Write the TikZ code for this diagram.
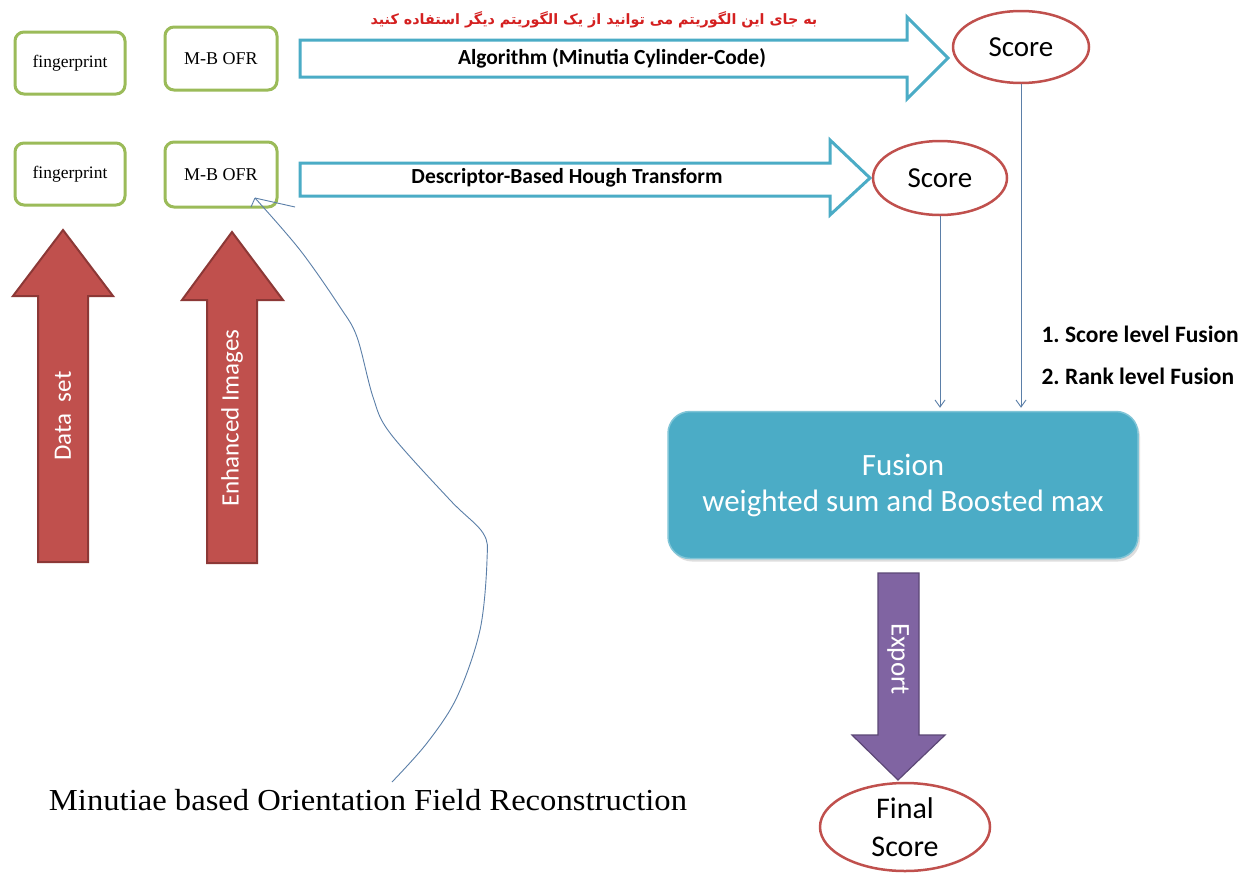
\documentclass[tikz,border=0pt]{standalone}
\usepackage{fontspec}
\setmainfont{Liberation Serif}
\newfontfamily\calib{Carlito}
\newfontfamily\capfont[FakeStretch=1.07]{Liberation Serif}
\newfontfamily\arabicfont[Script=Arabic]{DejaVu Sans}
\TeXXeTstate=1
\frenchspacing
\usetikzlibrary{arrows.meta,shapes.geometric,shadows}
\definecolor{boxgreen}{HTML}{9BBB59}
\definecolor{tealc}{HTML}{4BACC6}
\definecolor{redc}{HTML}{C0504D}
\definecolor{redd}{HTML}{8C3836}
\definecolor{purp}{HTML}{8064A2}
\definecolor{purpd}{HTML}{5C4776}
\definecolor{linec}{HTML}{5B7FA8}
\definecolor{persred}{HTML}{D42020}
\tikzset{
  gbox/.style={draw=boxgreen, line width=3pt, rounded corners=9pt, fill=white,
    minimum width=110pt, minimum height=62pt, inner sep=0pt, font=\fontsize{17.5}{20}\selectfont},
  hollowarrow/.style={draw=tealc, line width=3pt, fill=white, line join=miter},
  redarrow/.style={fill=redc, draw=redd, line width=2pt},
  purparrow/.style={fill=purp, draw=purpd, line width=1.2pt},
  scoreell/.style={ellipse, draw=redc, line width=2.5pt, fill=white, inner sep=0pt},
  conn/.style={draw=linec, line width=0.9pt, -{Straight Barb[length=7pt,width=10pt,line width=0.9pt]}},
  arrlabel/.style={font=\calib\bfseries\fontsize{21.5}{24}\selectfont},
  sidelabel/.style={font=\calib\bfseries\fontsize{23.5}{26}\selectfont, anchor=west},
  vlabel/.style={text=white, font=\calib\fontsize{25}{28}\selectfont}
}
\begin{document}
\begin{tikzpicture}[x=1pt,y=-1pt]
\useasboundingbox (0,0) rectangle (1257,873);
\fill[white] (0,0) rectangle (1257,873);

% input boxes
\node[gbox] (fp1) at (70,63) {fingerprint};
\node[gbox, minimum width=112pt, minimum height=63pt, font=\fontsize{18}{21}\selectfont] (mb1) at (221,58.5) {M-B OFR};
\node[gbox] (fp2) at (70,174) {fingerprint};
\node[gbox, minimum width=112pt, minimum height=65pt, font=\fontsize{18}{21}\selectfont] (mb2) at (221,174.5) {M-B OFR};

% hollow block arrows
\draw[hollowarrow] (300,40) -- (907,40) -- (907,17) -- (948,58) -- (907,99) -- (907,77) -- (300,77) -- cycle;
\node[arrlabel] (alg1) at (612,58) {Algorithm (Minutia Cylinder-Code)};
\draw[hollowarrow] (300,163) -- (830,163) -- (830,140) -- (870,178) -- (830,215) -- (830,196) -- (300,196) -- cycle;
\node[arrlabel] (alg2) at (567,178) {Descriptor-Based Hough Transform};

% persian note
\node[text=persred, font=\arabicfont\bfseries\fontsize{14.3}{17}\selectfont] (note) at (594,20)
  {\beginR به  جای این الگوریتم می توانید از یک الگوریتم دیگر استفاده کنید\endR};

% score ellipses
\node[scoreell, minimum width=136pt, minimum height=72pt, font=\calib\fontsize{29}{32}\selectfont] (s1) at (1021,47) {Score};
\node[scoreell, minimum width=134pt, minimum height=74pt, font=\calib\fontsize{29}{32}\selectfont] (s2) at (940,178) {Score};

% fusion box
\node[fill=tealc, draw=tealc!70!white, line width=1.5pt, rounded corners=22pt,
  minimum width=470pt, minimum height=147pt, text=white, align=center,
  font=\calib\fontsize{31}{36}\selectfont,
  drop shadow={shadow xshift=2pt, shadow yshift=-3pt, fill=black!25}] (fus) at (903,485)
  {Fusion\\weighted sum and Boosted max};

% connectors
\draw[conn] (s1.south) -- ([yshift=3pt]s1.south |- fus.north);
\draw[conn] (s2.south) -- ([yshift=3pt]s2.south |- fus.north);

% fusion labels
\node[sidelabel] (lab1) at (1038,334) {1. Score level Fusion};
\node[sidelabel] (lab2) at (1038,376) {2. Rank level Fusion};

% export arrow
\draw[purparrow] (878,573) -- (919,573) -- (919,735) -- (945,735) -- (898,780) -- (852,735) -- (878,735) -- cycle;
\node[vlabel, rotate=-90, font=\calib\fontsize{27}{30}\selectfont] (exp) at (898,659) {Export};

% final score
\node[scoreell, minimum width=170pt, minimum height=88pt, align=center,
  font=\calib\fontsize{30}{38}\selectfont] (fs) at (905,827) {Final\\Score};

% red up arrows
\draw[redarrow] (38,562) -- (38,296) -- (13,296) -- (63,230) -- (113,296) -- (88,296) -- (88,562) -- cycle;
\node[vlabel, rotate=90] (ds) at (63,416) {Data \ set};
\draw[redarrow] (207,563) -- (207,300) -- (182,300) -- (232,232) -- (283,300) -- (257,300) -- (257,563) -- cycle;
\node[vlabel, rotate=90] (ei) at (232,418) {Enhanced Images};

% caption
\node[font=\capfont\fontsize{30.5}{34}\selectfont] (cap) at (368,800) {Minutiae based Orientation Field Reconstruction};

% hand-drawn pointer
\coordinate (pstart) at (255,198);
\coordinate (pend) at (392,782);
\draw[linec, line width=0.9pt] (pstart) -- (251,207);
\draw[linec, line width=0.9pt] (pstart) -- (295,207);
\draw[linec, line width=0.9pt] plot[smooth, tension=0.55] coordinates {(255,198) (300,250) (340,307) (357,337) (373,397) (390,433) (450,500) (483,533) (487,560) (480,630) (457,697) (427,743) (392,782)};
\end{tikzpicture}
\end{document}
